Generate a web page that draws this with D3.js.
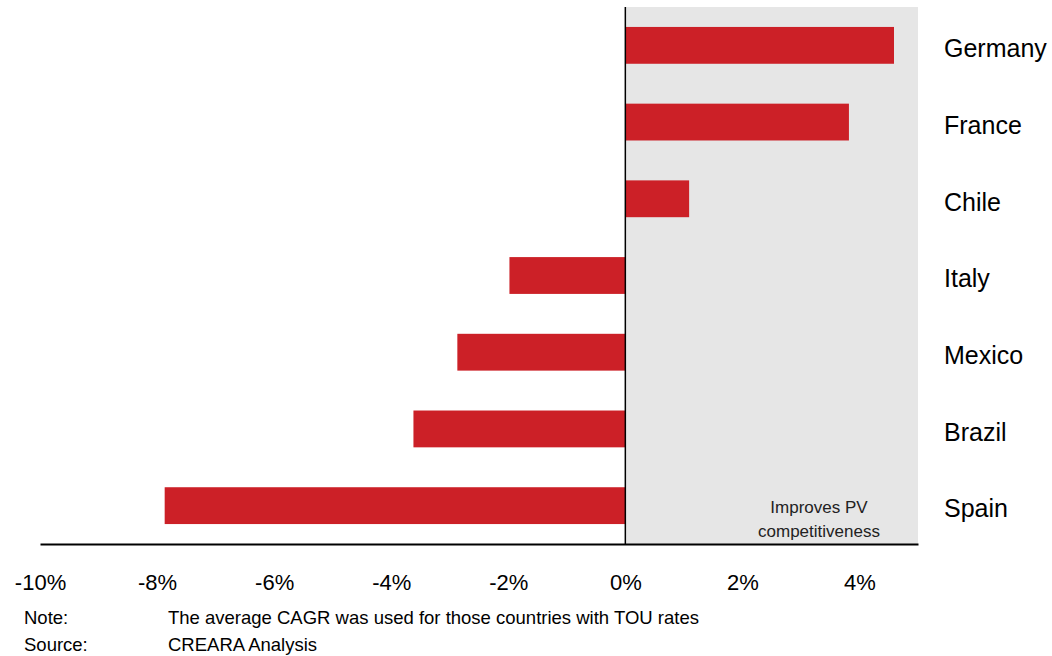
<!DOCTYPE html>
<html><head><meta charset="utf-8">
<script src="https://cdn.jsdelivr.net/npm/d3@7"></script>
<style>body{margin:0;background:#fff;} svg{display:block;font-family:"Liberation Sans",Arial,sans-serif;}</style>
</head><body>
<svg id="c" width="1052" height="656"></svg>
<script>
const countries = ["Germany","France","Chile","Italy","Mexico","Brazil","Spain"];
const values = [4.59, 3.82, 1.09, -1.98, -2.87, -3.62, -7.87];
const tickValues = [-10,-8,-6,-4,-2,0,2,4];
const noteLabels = ["Note:","Source:"];
const noteTexts = ["The average CAGR was used for those countries with TOU rates","CREARA Analysis"];

const svg = d3.select("#c");
const x = d3.scaleLinear().domain([-10,5]).range([40,918]);
const y = d3.scaleBand().domain(countries).range([7,544]).paddingInner(0.52).paddingOuter(0.26);

// grey region
svg.append("rect").attr("x",x(0)).attr("y",7).attr("width",x(5)-x(0)).attr("height",544-7).attr("fill","#e6e6e6");

// bars
svg.selectAll("rect.bar").data(countries).join("rect").attr("class","bar")
  .attr("x",(d,i)=>x(Math.min(0,values[i])))
  .attr("width",(d,i)=>Math.abs(x(values[i])-x(0)))
  .attr("y",d=>y(d)).attr("height",y.bandwidth())
  .attr("fill","#cc2027");

// zero line
svg.append("line").attr("x1",x(0)).attr("x2",x(0)).attr("y1",7).attr("y2",544).attr("stroke","#000").attr("stroke-width",1.5);

// x axis
const ax = svg.append("g").attr("transform","translate(0,544)")
  .call(d3.axisBottom(x).tickValues(tickValues).tickSize(0).tickPadding(30).tickFormat(d=>d+"%"));
ax.select(".domain").attr("stroke","#000").attr("stroke-width",2);
ax.selectAll("text").attr("font-size",22).attr("fill","#000").attr("font-family","Liberation Sans, Arial, sans-serif");

// category labels
svg.selectAll("text.cat").data(countries).join("text").attr("class","cat")
  .attr("x",944).attr("y",d=>y(d)+y.bandwidth()/2+3).attr("dy","0.35em")
  .attr("font-size",25).attr("fill","#000").text(d=>d);

// annotation
svg.append("text").attr("x",819).attr("y",513).attr("text-anchor","middle").attr("font-size",17).attr("fill","#222").text("Improves PV");
svg.append("text").attr("x",819).attr("y",537).attr("text-anchor","middle").attr("font-size",17).attr("fill","#222").text("competitiveness");

// notes
noteLabels.forEach((l,i)=>{
  svg.append("text").attr("x",24).attr("y",624+i*27).attr("font-size",18.5).attr("fill","#000").text(l);
  svg.append("text").attr("x",168).attr("y",624+i*27).attr("font-size",18.5).attr("fill","#000").text(noteTexts[i]);
});
</script>
</body></html>
